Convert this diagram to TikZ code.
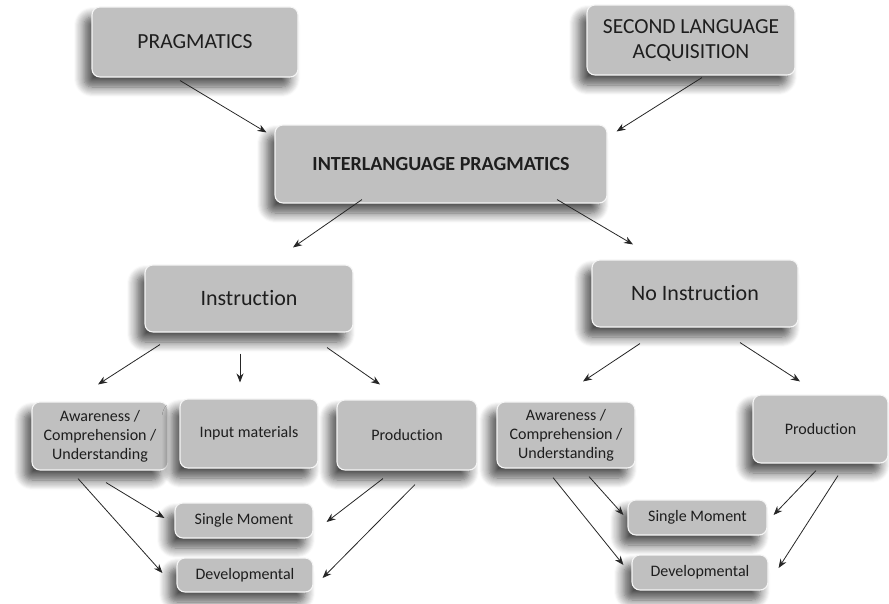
\documentclass[tikz,border=0pt]{standalone}
\usepackage{fontspec}
\setmainfont{Carlito}[Ligatures={NoCommon}]
\usetikzlibrary{arrows.meta,calc,shadows.blur}
\definecolor{boxfill}{RGB}{192,192,192}
\definecolor{txt}{RGB}{30,30,30}
\tikzset{
  gbox/.style={rounded corners=8pt, fill=boxfill, draw=white!92!gray, line width=1.1pt,
    text=txt, align=center, inner sep=0pt,
    blur shadow={shadow xshift=-8pt, shadow yshift=-10pt, shadow blur radius=10pt, shadow opacity=70, shadow blur steps=10}},
  bigtxt/.style={font=\fontsize{21.5}{25}\selectfont},
  midtxt/.style={font=\fontsize{22}{26}\selectfont},
  smalltxt/.style={font=\fontsize{16}{19}\selectfont},
  arr/.style={-{Stealth[length=9pt,width=7pt]}, line width=0.8pt, draw=black!85}
}
\begin{document}
\begin{tikzpicture}[x=1pt,y=-1pt]
\useasboundingbox (0,0) rectangle (889,603);
% top
\node[gbox,bigtxt,minimum width=206pt,minimum height=70pt] (prag) at (195,42) {PRAGMATICS};
\node[gbox,bigtxt,minimum width=208pt,minimum height=70pt] (sla) at (691,40) {SECOND LANGUAGE\\ACQUISITION};
\node[gbox,font=\fontsize{20}{24}\selectfont\bfseries,minimum width=332pt,minimum height=78pt] (ilp) at (441,164) {INTERLANGUAGE PRAGMATICS};
% middle
\node[gbox,midtxt,minimum width=208pt,minimum height=67pt] (instr) at (249,298.5) {Instruction};
\node[gbox,midtxt,minimum width=206pt,minimum height=67pt] (noinstr) at (695,293.5) {No Instruction};
% left branch
\node[gbox,smalltxt,minimum width=136pt,minimum height=68pt] (awL) at (100,436) {Awareness /\\Comprehension /\\Understanding};
\node[gbox,smalltxt,minimum width=138pt,minimum height=69pt] (input) at (249,433.5) {Input materials};
\node[gbox,smalltxt,minimum width=140pt,minimum height=70pt] (prodL) at (407,435) {Production};
\node[gbox,smalltxt,minimum width=138pt,minimum height=35pt] (smL) at (244,520.5) {Single Moment};
\node[gbox,smalltxt,minimum width=136pt,minimum height=34pt] (devL) at (245,575) {Developmental};
% right branch
\node[gbox,smalltxt,minimum width=138pt,minimum height=66pt] (awR) at (566,435) {Awareness /\\Comprehension /\\Understanding};
\node[gbox,smalltxt,minimum width=135pt,minimum height=68pt] (prodR) at (820.5,429) {Production};
\node[gbox,smalltxt,minimum width=139pt,minimum height=35pt] (smR) at (697.5,517.5) {Single Moment};
\node[gbox,smalltxt,minimum width=136pt,minimum height=35pt] (devR) at (700,572.5) {Developmental};
% arrows
\draw[arr] ($(prag.south)+(-15,3)$) -- ($(ilp.north west)+(-8,8)$);
\draw[arr] ($(sla.south)+(11,2)$) -- ($(ilp.north east)+(9,7)$);
\draw[arr] ($(ilp.south)+(-79,-4)$) -- ($(instr.north)+(44,-17)$);
\draw[arr] ($(ilp.south)+(116,-4)$) -- ($(noinstr.north)+(-62,-15)$);
\draw[arr] ($(instr.south)+(-89,12)$) -- ($(awL.north)+(-2,-17)$);
\draw[arr] ($(instr.south)+(-9,21)$) -- ($(input.north)+(-9,-16)$);
\draw[arr] ($(instr.south)+(78,15)$) -- ($(prodL.north)+(-27,-15)$);
\draw[arr] ($(noinstr.south)+(-55,16)$) -- ($(awR.north)+(17,-20)$);
\draw[arr] ($(noinstr.south)+(45,15)$) -- ($(prodR.north)+(-20.5,-13)$);
\draw[arr] ($(awL.south)+(6,12)$) -- ($(smL.west)+(-10,-2.5)$);
\draw[arr] ($(awL.south)+(-22,8)$) -- ($(devL.west)+(-14,-2)$);
\draw[arr] ($(prodL.south)+(-24,8)$) -- ($(smL.east)+(13,1.5)$);
\draw[arr] ($(prodL.south)+(8,14)$) -- ($(devL.east)+(9,3)$);
\draw[arr] ($(awR.south)+(23,8)$) -- ($(smR.west)+(-4,-2.5)$);
\draw[arr] ($(awR.south)+(-13,9)$) -- ($(devR.west)+(-8,-7.5)$);
\draw[arr] ($(prodR.south)+(-4.5,7)$) -- ($(smR.east)+(6,-2.5)$);
\draw[arr] ($(prodR.south)+(17.5,12)$) -- ($(devR.east)+(10,-4.5)$);
\end{tikzpicture}
\end{document}
